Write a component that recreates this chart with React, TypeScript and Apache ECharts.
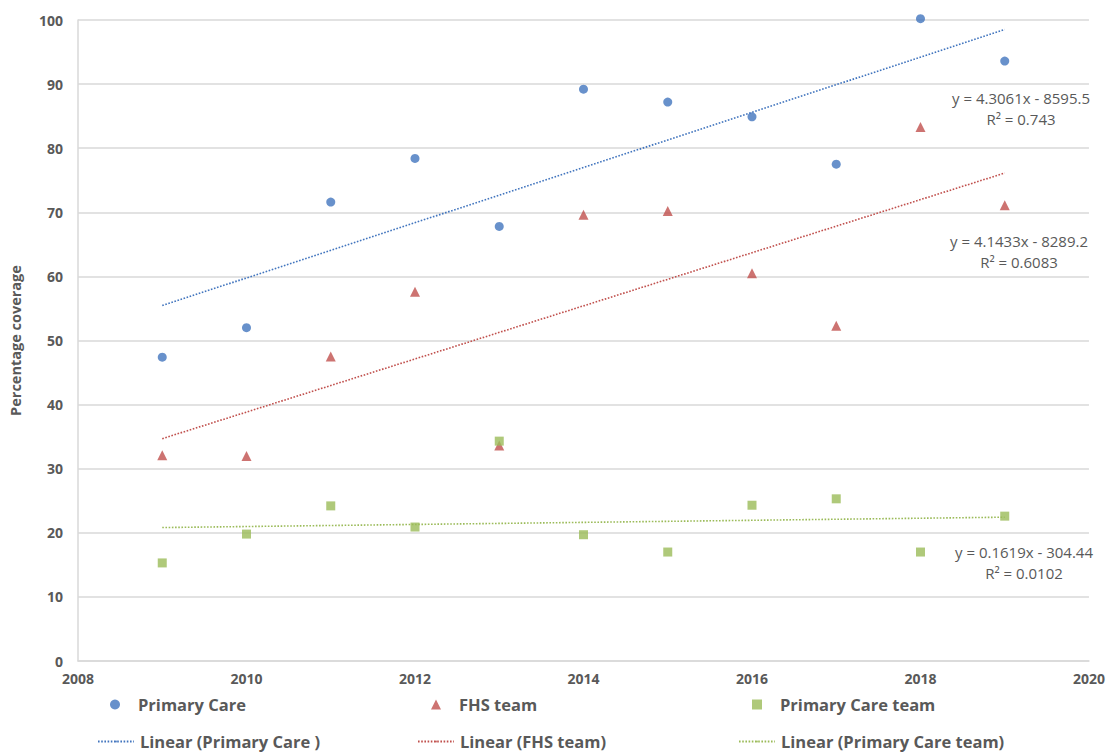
import React, { useEffect, useRef } from "react";
import * as echarts from "echarts";

const years = [2009, 2010, 2011, 2012, 2013, 2014, 2015, 2016, 2017, 2018, 2019];
const primaryCare = [47.4, 52.0, 71.6, 78.4, 67.8, 89.2, 87.2, 84.9, 77.5, 100.2, 93.6];
const fhsTeam = [32.1, 32.0, 47.5, 57.6, 33.6, 69.6, 70.2, 60.5, 52.3, 83.3, 71.1];
const primaryCareTeam = [15.3, 19.8, 24.2, 20.9, 34.3, 19.7, 17.0, 24.3, 25.3, 17.0, 22.6];

// Trendline coefficients (slope, intercept) from the chart's equations
const trendPC = [4.3061, -8595.5];
const trendFHS = [4.1433, -8289.2];
const trendPCT = [0.1619, -304.44];

const eqPC = ["y = 4.3061x - 8595.5", "R² = 0.743"];
const eqFHS = ["y = 4.1433x - 8289.2", "R² = 0.6083"];
const eqPCT = ["y = 0.1619x - 304.44", "R² = 0.0102"];

const xTicks = [2008, 2020];
const yTicks = [0, 100];

const BLUE = "#4275BE";
const RED = "#C0504D";
const GREEN = "#9BBB59";
const TXT = "#595959";
const FONT = "'Open Sans', 'Liberation Sans', sans-serif";

const pairs = (ys: number[]) => years.map((y, i) => [y, ys[i]]);
const trend = (c: number[]) => {
  const x0 = years[0];
  const x1 = years[years.length - 1];
  return [
    [x0, c[0] * x0 + c[1]],
    [x1, c[0] * x1 + c[1]],
  ];
};

export default function App() {
  const ref = useRef<HTMLDivElement>(null);
  useEffect(() => {
    if (!ref.current) return;
    const chart = echarts.init(ref.current, undefined, { renderer: "svg" });
    const mkLegend = (name: string, left: number, top: number, isLine: boolean) => ({
      data: [name],
      left,
      top,
      padding: 0,
      orient: "horizontal",
      itemWidth: isLine ? 36 : 10,
      itemHeight: isLine ? 2 : 10,
      itemGap: 6,
      textStyle: {
        color: TXT,
        fontSize: 16.5,
        fontWeight: "bold",
        fontFamily: FONT,
        padding: isLine ? [0, 0, 0, 1] : [0, 0, 0, 13],
      },
      selectedMode: false,
    });
    const eqText = (lines: string[], x: number, y: number) =>
      lines.map((t, i) => ({
        type: "text",
        x,
        y: y + i * 21,
        style: {
          text: t,
          fill: TXT,
          fontSize: 15,
          fontFamily: FONT,
          textAlign: "center",
          textVerticalAlign: "middle",
        },
      }));
    const dotted = (color: string) => ({ color, width: 1.6, type: [1.6, 1.6] });
    chart.setOption({
      animation: false,
      backgroundColor: "#fff",
      grid: { left: 75, right: 19, top: 20, bottom: 93 },
      xAxis: {
        type: "value",
        min: xTicks[0],
        max: xTicks[1],
        interval: 2,
        axisLine: { show: true, lineStyle: { color: "#D9D9D9", width: 1.5 } },
        axisTick: { show: false },
        splitLine: { show: false },
        axisLabel: {
          color: TXT,
          fontSize: 14,
          fontWeight: "bold",
          fontFamily: FONT,
          margin: 10,
          formatter: (v: number) => String(v),
        },
      },
      yAxis: {
        type: "value",
        min: yTicks[0],
        max: yTicks[1],
        interval: 10,
        name: "Percentage coverage",
        nameLocation: "middle",
        nameGap: 55,
        nameTextStyle: { color: TXT, fontSize: 14.5, fontWeight: "bold", fontFamily: FONT },
        axisLine: { show: true, lineStyle: { color: "#D9D9D9", width: 1.5 } },
        axisTick: { show: false },
        splitLine: { show: true, lineStyle: { color: "#D9D9D9", width: 1.5 } },
        axisLabel: { color: TXT, fontSize: 14, fontWeight: "bold", fontFamily: FONT, margin: 15 },
      },
      legend: [
        mkLegend("Primary Care", 110, 696, false),
        mkLegend("FHS team", 431, 696, false),
        mkLegend("Primary Care team", 752, 696, false),
        mkLegend("Linear (Primary Care )", 97, 733, true),
        mkLegend("Linear (FHS team)", 417, 733, true),
        mkLegend("Linear (Primary Care team)", 738, 733, true),
      ],
      graphic: [
        ...eqText(eqPC, 1021, 98),
        ...eqText(eqFHS, 1019, 241),
        ...eqText(eqPCT, 1024, 552),
      ],
      series: [
        {
          name: "Primary Care",
          type: "scatter",
          symbol: "circle",
          symbolSize: 9,
          clip: false,
          itemStyle: { color: BLUE },
          data: pairs(primaryCare),
        },
        {
          name: "FHS team",
          type: "scatter",
          symbol: "triangle",
          symbolSize: 10,
          clip: false,
          itemStyle: { color: RED },
          data: pairs(fhsTeam),
        },
        {
          name: "Primary Care team",
          type: "scatter",
          symbol: "rect",
          symbolSize: 9,
          clip: false,
          itemStyle: { color: GREEN },
          data: pairs(primaryCareTeam),
        },
        {
          name: "Linear (Primary Care )",
          type: "line",
          symbol: "none",
          itemStyle: { color: BLUE },
          lineStyle: dotted(BLUE),
          data: trend(trendPC),
        },
        {
          name: "Linear (FHS team)",
          type: "line",
          symbol: "none",
          itemStyle: { color: RED },
          lineStyle: dotted(RED),
          data: trend(trendFHS),
        },
        {
          name: "Linear (Primary Care team)",
          type: "line",
          symbol: "none",
          itemStyle: { color: GREEN },
          lineStyle: dotted(GREEN),
          data: trend(trendPCT),
        },
      ],
    });
    return () => chart.dispose();
  }, []);
  return (
    <div
      ref={ref}
      style={{ position: "fixed", left: 0, top: 0, width: 1108, height: 754, background: "#fff" }}
    />
  );
}
